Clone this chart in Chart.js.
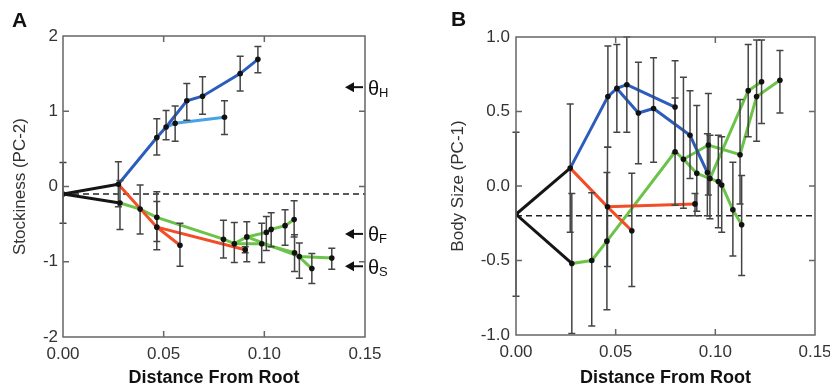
<!DOCTYPE html>
<html lang="en">
<head>
  <meta charset="UTF-8" />
  <title>Trait evolution along the tree</title>
  <script src="https://cdn.jsdelivr.net/npm/chart.js@4"></script>
  <style>
    body {
      margin: 0;
      background: #fff;
      font-family: "Liberation Sans", Arial, sans-serif;
    }
    .wrap {
      position: relative;
      width: 830px;
      height: 389px;
    }
    .wrap canvas {
      position: absolute;
      top: 0;
    }
    #chartA { left: 0; }
    #chartB { left: 415px; }
    .tag {
      position: absolute;
      font-weight: bold;
      font-size: 21px;
      color: #111;
    }
  </style>
</head>
<body>
  <div class="wrap">
    <canvas id="chartA" width="415" height="389"></canvas>
    <canvas id="chartB" width="415" height="389"></canvas>
    <div class="tag" style="left:12px;top:8px">A</div>
    <div class="tag" style="left:451px;top:7px">B</div>
  </div>
  <script>
    // shared x axis
    const xTickVals = [0, 0.05, 0.10, 0.15];
    const xTickLabels = ['0.00', '0.05', '0.10', '0.15'];

    // Panel A - stockiness (PC-2), one entry per node
    const aDist = [0, 0.0275, 0.0283, 0.0466, 0.0512, 0.0615, 0.0693, 0.0880, 0.0968, 0.0557,
                   0.0802, 0.0466, 0.0581, 0.0905, 0.0383, 0.0466, 0.0797, 0.0851, 0.0913, 0.0987,
                   0.1010, 0.1034, 0.1103, 0.1148, 0.1150, 0.1174, 0.1236, 0.1335];
    const aMean = [-0.10, 0.03, -0.22, 0.65, 0.79, 1.14, 1.20, 1.50, 1.69, 0.84,
                   0.92, -0.54, -0.78, -0.84, -0.30, -0.41, -0.70, -0.76, -0.67, -0.76,
                   -0.61, -0.57, -0.52, -0.44, -0.88, -0.93, -1.09, -0.95];
    const aLow = [-0.49, -0.27, -0.57, 0.42, 0.62, 0.88, 0.96, 1.27, 1.51, 0.60,
                  0.69, -0.84, -1.06, -0.88, -0.63, -0.73, -0.95, -1.01, -1.00, -1.01,
                  -0.85, -0.80, -0.78, -0.67, -1.13, -1.22, -1.29, -1.10];
    const aHigh = [0.32, 0.33, 0.08, 0.90, 1.01, 1.37, 1.46, 1.73, 1.86, 1.07,
                   1.14, -0.20, -0.49, -0.80, 0.02, -0.07, -0.45, -0.48, -0.47, -0.49,
                   -0.40, -0.35, -0.31, -0.19, -0.64, -0.75, -0.89, -0.82];
    // branches as node paths, with the clade of each path
    const aPaths = [[0, 1], [0, 2], [1, 3, 4, 5, 6, 7, 8], [4, 9, 10], [1, 11, 12], [11, 13],
                    [2, 14, 15, 16, 17, 18, 20, 21, 22, 23], [17, 19, 24, 26], [18, 25, 27]];
    const aPathClade = ['root', 'root', 'cladeH', 'cladeH2', 'cladeF', 'cladeF', 'cladeS', 'cladeS', 'cladeS'];
    const aRootMean = -0.10;
    const aYTickVals = [-2, -1, 0, 1, 2];
    const aYTickLabels = ['-2', '-1', '0', '1', '2'];
    const aThetaVals = [1.32, -0.63, -1.06];
    const aThetaSubs = ['H', 'F', 'S'];

    // Panel B - body size (PC-1)
    const bDist = [0, 0.0272, 0.0280, 0.0461, 0.0506, 0.0556, 0.0798, 0.0614, 0.0690, 0.0873,
                   0.0960, 0.0459, 0.0581, 0.0898, 0.0380, 0.0456, 0.0798, 0.0907, 0.0965, 0.1015,
                   0.1088, 0.1132, 0.1124, 0.1165, 0.1232, 0.1207, 0.1324, 0.1032, 0.0840, 0.0973];
    const bMean = [-0.19, 0.12, -0.52, 0.60, 0.655, 0.68, 0.53, 0.49, 0.52, 0.34,
                   0.09, -0.14, -0.30, -0.12, -0.50, -0.37, 0.23, 0.085, 0.275, 0.03,
                   -0.16, -0.26, 0.21, 0.64, 0.70, 0.60, 0.71, 0.007, 0.18, 0.05];
    const bLow = [-0.74, -0.31, -0.99, 0.26, 0.36, 0.36, 0.22, 0.15, 0.16, 0.05,
                  -0.20, -0.54, -0.675, -0.20, -0.94, -0.83, -0.13, -0.17, -0.06, -0.28,
                  -0.47, -0.60, -0.12, 0.33, 0.42, 0.30, 0.49, -0.31, -0.15, -0.22];
    const bHigh = [0.36, 0.55, -0.05, 0.94, 0.95, 1.00, 0.84, 0.83, 0.86, 0.64,
                   0.35, 0.26, 0.085, -0.05, -0.045, 0.09, 0.59, 0.54, 0.62, 0.34,
                   0.16, 0.07, 0.58, 0.95, 0.98, 0.98, 0.91, 0.33, 0.73, 0.34];
    const bPaths = [[0, 1], [0, 2], [1, 3, 4, 5, 6], [4, 7, 8, 9, 10], [1, 11, 12], [11, 13],
                    [2, 14, 15, 16, 28, 17, 29, 19, 27, 20, 21], [28, 18, 22, 25, 26], [29, 23, 24]];
    const bPathClade = ['root', 'root', 'cladeH', 'cladeH', 'cladeF', 'cladeF', 'cladeS', 'cladeS', 'cladeS'];
    const bRootMean = -0.20;
    const bYTickVals = [-1, -0.5, 0, 0.5, 1];
    const bYTickLabels = ['-1.0', '-0.5', '0.0', '0.5', '1.0'];

    const cladeColors = {
      root: '#151515',
      cladeH: '#2c5cbc',
      cladeH2: '#49a2e6',
      cladeF: '#f24d26',
      cladeS: '#6cc349'
    };
    const font = '"Liberation Sans", Arial, sans-serif';

    // error bars, frame, inward ticks and theta arrows
    function makeDecor(p) {
      return {
        id: 'decor',
        beforeDatasetDraw(chart, args) {
          if (!chart.data.datasets[args.index].isNodes) return;
          const ctx = chart.ctx, xs = chart.scales.x, ys = chart.scales.y;
          ctx.save();
          ctx.strokeStyle = '#444';
          ctx.lineWidth = 1.5;
          p.dist.forEach((d, i) => {
            const px = xs.getPixelForValue(d);
            const lo = ys.getPixelForValue(p.low[i]);
            const hi = ys.getPixelForValue(p.high[i]);
            ctx.beginPath();
            ctx.moveTo(px, lo); ctx.lineTo(px, hi);
            ctx.moveTo(px - 3.5, lo); ctx.lineTo(px + 3.5, lo);
            ctx.moveTo(px - 3.5, hi); ctx.lineTo(px + 3.5, hi);
            ctx.stroke();
          });
          ctx.restore();
        },
        afterDraw(chart) {
          const ctx = chart.ctx, xs = chart.scales.x, ys = chart.scales.y;
          const { left, right, top, bottom } = chart.chartArea;
          ctx.save();
          ctx.strokeStyle = '#666';
          ctx.lineWidth = 1.5;
          ctx.strokeRect(left, top, right - left, bottom - top);
          ctx.beginPath();
          xTickVals.slice(1, -1).forEach(v => {
            const px = xs.getPixelForValue(v);
            ctx.moveTo(px, bottom); ctx.lineTo(px, bottom - 6);
            ctx.moveTo(px, top); ctx.lineTo(px, top + 6);
          });
          p.yTicks.slice(1, -1).forEach(v => {
            const py = ys.getPixelForValue(v);
            ctx.moveTo(left, py); ctx.lineTo(left + 6, py);
            ctx.moveTo(right, py); ctx.lineTo(right - 6, py);
          });
          ctx.stroke();

          if (p.thetas) {
            ctx.fillStyle = '#111';
            ctx.strokeStyle = '#111';
            ctx.lineWidth = 2;
            p.thetas.forEach((v, i) => {
              const py = ys.getPixelForValue(v);
              const tip = right - 20;
              ctx.beginPath();
              ctx.moveTo(tip + 6, py); ctx.lineTo(right - 2, py);
              ctx.stroke();
              ctx.beginPath();
              ctx.moveTo(tip, py); ctx.lineTo(tip + 9, py - 5); ctx.lineTo(tip + 9, py + 5);
              ctx.closePath();
              ctx.fill();
              ctx.textBaseline = 'middle';
              ctx.font = '20px ' + font;
              ctx.fillText('θ', right + 3, py + 2);
              const w = ctx.measureText('θ').width;
              ctx.font = '13px ' + font;
              ctx.fillText(p.subs[i], right + 3 + w, py + 6);
            });
          }
          ctx.restore();
        }
      };
    }

    function makePanel(id, p) {
      const datasets = [];
      datasets.push({
        isNodes: true,
        type: 'scatter',
        data: p.dist.map((d, i) => ({ x: d, y: p.mean[i] })),
        pointRadius: 2.8,
        pointBackgroundColor: '#111',
        pointBorderWidth: 0,
        order: 0
      });
      p.paths.forEach((path, k) => {
        datasets.push({
          type: 'line',
          data: path.map(i => ({ x: p.dist[i], y: p.mean[i] })),
          borderColor: cladeColors[p.clades[k]],
          borderWidth: 3,
          pointRadius: 0,
          tension: 0,
          fill: false,
          order: 2
        });
      });
      datasets.push({
        type: 'line',
        data: [{ x: xTickVals[0], y: p.rootMean }, { x: xTickVals[xTickVals.length - 1], y: p.rootMean }],
        borderColor: '#222',
        borderWidth: 1.6,
        borderDash: [6, 4],
        pointRadius: 0,
        order: 3
      });

      return new Chart(document.getElementById(id), {
        type: 'scatter',
        data: { datasets },
        options: {
          responsive: false,
          animation: false,
          events: [],
          layout: { padding: p.pad },
          plugins: { legend: { display: false }, tooltip: { enabled: false } },
          scales: {
            x: {
              type: 'linear',
              min: xTickVals[0],
              max: xTickVals[xTickVals.length - 1],
              grid: { display: false, drawTicks: false },
              border: { display: false },
              afterBuildTicks: s => { s.ticks = xTickVals.map(v => ({ value: v })); },
              afterFit: s => { s.height = p.xHeight; s.paddingLeft = 0; s.paddingRight = 0; },
              ticks: {
                color: '#333',
                padding: 7,
                maxRotation: 0,
                font: { family: font, size: 17 },
                callback: (v, i) => xTickLabels[i]
              },
              title: {
                display: true,
                text: 'Distance From Root',
                color: '#111',
                padding: { top: 0, bottom: 0 },
                font: { family: font, size: 18, weight: 'bold' }
              }
            },
            y: {
              type: 'linear',
              min: p.yTicks[0],
              max: p.yTicks[p.yTicks.length - 1],
              grid: { display: false, drawTicks: false },
              border: { display: false },
              afterBuildTicks: s => { s.ticks = p.yTicks.map(v => ({ value: v })); },
              afterFit: s => { s.width = p.yWidth; s.paddingTop = 0; s.paddingBottom = 0; },
              ticks: {
                color: '#333',
                padding: p.yPad,
                font: { family: font, size: 17 },
                callback: (v, i) => p.yLabels[i]
              },
              title: {
                display: true,
                text: p.yTitle,
                color: '#333',
                padding: { top: p.yTitlePad, bottom: 0 },
                font: { family: font, size: 17 }
              }
            }
          }
        },
        plugins: [makeDecor(p)]
      });
    }

    makePanel('chartA', {
      dist: aDist, mean: aMean, low: aLow, high: aHigh,
      paths: aPaths, clades: aPathClade, rootMean: aRootMean,
      yTicks: aYTickVals, yLabels: aYTickLabels, yTitle: 'Stockiness (PC-2)',
      thetas: aThetaVals, subs: aThetaSubs,
      pad: { left: 0, right: 50, top: 36, bottom: 0 },
      xHeight: 52, yWidth: 63, yPad: 5, yTitlePad: 10
    });

    makePanel('chartB', {
      dist: bDist, mean: bMean, low: bLow, high: bHigh,
      paths: bPaths, clades: bPathClade, rootMean: bRootMean,
      yTicks: bYTickVals, yLabels: bYTickLabels, yTitle: 'Body Size (PC-1)',
      pad: { left: 0, right: 15, top: 37, bottom: 0 },
      xHeight: 54, yWidth: 101, yPad: 6, yTitlePad: 33
    });
  </script>
</body>
</html>
